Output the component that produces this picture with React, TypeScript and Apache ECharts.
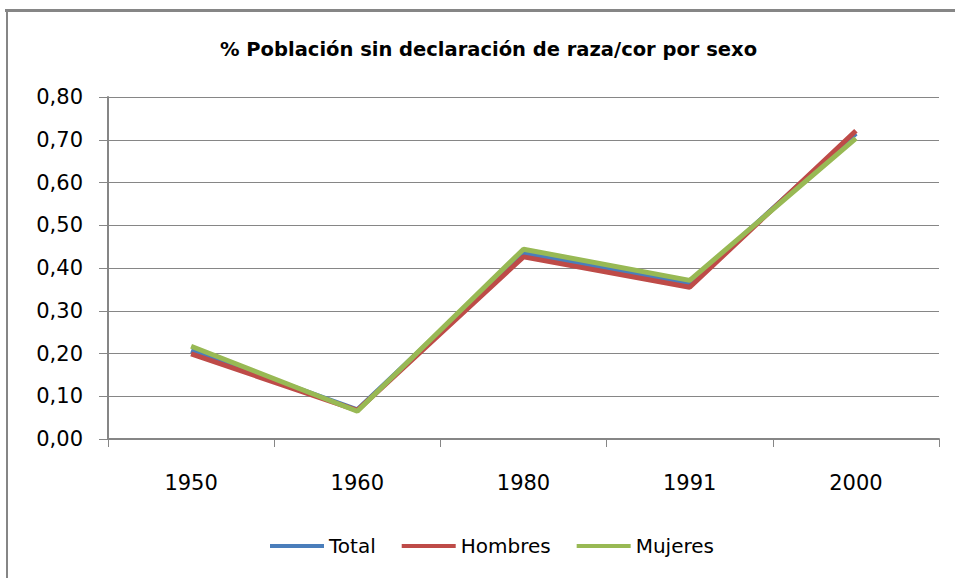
import React, { useEffect, useRef } from "react";
import * as echarts from "echarts";

const title = "% Población sin declaración de raza/cor por sexo";
const categories = ["1950", "1960", "1980", "1991", "2000"];
const total = [0.207, 0.068, 0.435, 0.363, 0.715];
const hombres = [0.199, 0.067, 0.426, 0.355, 0.721];
const mujeres = [0.217, 0.065, 0.444, 0.371, 0.703];
const seriesNames = ["Total", "Hombres", "Mujeres"];
const colors = ["#4a7ebb", "#be4b48", "#98b954"];

const FONT = "'DejaVu Sans', 'Liberation Sans', sans-serif";

export default function App() {
  const ref = useRef<HTMLDivElement>(null);
  useEffect(() => {
    if (!ref.current) return;
    const chart = echarts.init(ref.current, undefined, { renderer: "svg" });
    const data = [total, hombres, mujeres];
    chart.setOption({
      animation: false,
      backgroundColor: "#ffffff",
      title: {
        text: title,
        left: 215,
        top: 34,
        textStyle: { fontFamily: FONT, fontSize: 19.5, fontWeight: "bold", color: "#000" },
      },
      legend: {
        bottom: 17,
        left: 265,
        icon: "rect",
        itemWidth: 54,
        itemHeight: 4,
        itemGap: 26,
        textStyle: { fontFamily: FONT, fontSize: 20, color: "#000" },
        data: seriesNames,
      },
      grid: { left: 108, right: 16, top: 97, bottom: 139, containLabel: false },
      xAxis: {
        type: "category",
        data: categories,
        boundaryGap: true,
        axisLine: { show: true, lineStyle: { color: "#868686", width: 2 } },
        axisTick: { show: true, length: 8, lineStyle: { color: "#868686" } },
        axisLabel: { fontFamily: FONT, fontSize: 21, color: "#000", margin: 33 },
      },
      yAxis: {
        type: "value",
        min: 0,
        max: 0.8,
        interval: 0.1,
        axisLine: { show: true, lineStyle: { color: "#868686", width: 2 } },
        axisTick: { show: true, length: 9, lineStyle: { color: "#868686" } },
        axisLabel: {
          fontFamily: FONT,
          fontSize: 21,
          color: "#000",
          margin: 25,
          formatter: (v: number) => v.toFixed(2).replace(".", ","),
        },
        splitLine: { show: true, lineStyle: { color: "#868686", width: 1 } },
      },
      series: seriesNames.map((name, i) => ({
        name,
        type: "line",
        data: data[i],
        symbol: "none",
        color: colors[i],
        lineStyle: { color: colors[i], width: 5 },
      })),
      graphic: [
        { type: "rect", shape: { x: 5, y: 9, width: 950, height: 3 }, style: { fill: "#868686" } },
        { type: "rect", shape: { x: 6, y: 9, width: 2, height: 569 }, style: { fill: "#868686" } },
      ],
    });
    return () => chart.dispose();
  }, []);
  return <div ref={ref} style={{ width: 955, height: 578, position: "absolute", left: 0, top: 0 }} />;
}
